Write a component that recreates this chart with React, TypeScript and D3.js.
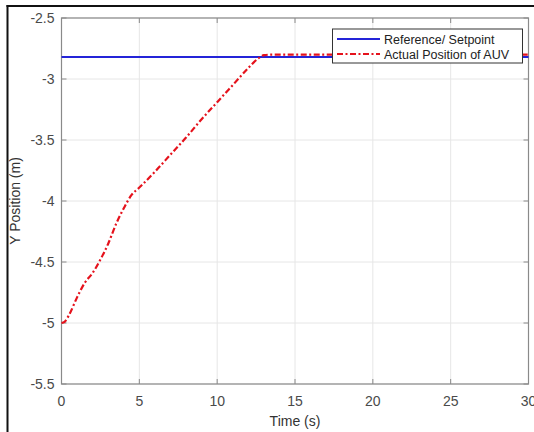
import React from "react";
import * as d3 from "d3";

const timeValues = [0, 0.2, 0.5, 1.0, 1.5, 2.0, 2.5, 3.0, 3.5, 4.0, 4.5, 5.0, 6.0, 7.0, 8.0, 9.0, 10.0, 11.0, 12.0, 12.6, 13.0, 13.5, 15, 20, 25, 30];
const actualValues = [-5.0, -4.99, -4.93, -4.79, -4.67, -4.59, -4.48, -4.35, -4.19, -4.06, -3.95, -3.89, -3.76, -3.62, -3.48, -3.33, -3.19, -3.05, -2.91, -2.835, -2.805, -2.8, -2.8, -2.8, -2.8, -2.8];
const referenceTimes = [0, 30];
const referenceValues = [-2.82, -2.82];
const xTicks = [0, 5, 10, 15, 20, 25, 30];
const yTicks = [-2.5, -3, -3.5, -4, -4.5, -5, -5.5];
const seriesNames = ["Reference/ Setpoint", "Actual Position of AUV"];

const W = 534;
const H = 432;
const left = 61.5;
const right = 528.5;
const top = 18;
const bottom = 384;
const FONT = "'Liberation Sans', Arial, sans-serif";
const BLUE = "#2424d8";
const RED = "#e5121c";
const AXIS = "#8a8a8a";
const GRID = "#e6e6e6";
const TXT = "#4a4a4a";

export default function App() {
  const x = d3.scaleLinear().domain([0, 30]).range([left, right]);
  const y = d3.scaleLinear().domain([-5.5, -2.5]).range([bottom, top]);
  const line = d3
    .line<[number, number]>()
    .x((d) => x(d[0]))
    .y((d) => y(d[1]))
    .curve(d3.curveMonotoneX);
  const actual: [number, number][] = timeValues.map((t, i) => [t, actualValues[i]]);
  const ref: [number, number][] = referenceTimes.map((t, i) => [t, referenceValues[i]]);
  const fmt = (v: number) => String(v);

  return (
    <svg width={W} height={H} style={{ position: "absolute", left: 0, top: 0, background: "#fff" }}>
      <rect x={0} y={0} width={W} height={H} fill="#fff" />
      {/* outer frame */}
      <line x1={7.5} x2={7.5} y1={5} y2={H} stroke="#111" strokeWidth={2} />
      <line x1={6.5} x2={W} y1={6} y2={6} stroke="#111" strokeWidth={2} />
      {/* grid */}
      {xTicks.map((t) => (
        <line key={"gx" + t} x1={x(t)} x2={x(t)} y1={top} y2={bottom} stroke={GRID} strokeWidth={1} />
      ))}
      {yTicks.map((t) => (
        <line key={"gy" + t} x1={left} x2={right} y1={y(t)} y2={y(t)} stroke={GRID} strokeWidth={1} />
      ))}
      {/* axes box */}
      <rect x={left} y={top} width={right - left} height={bottom - top} fill="none" stroke={AXIS} strokeWidth={1.2} />
      {/* ticks */}
      {xTicks.map((t) => (
        <g key={"tx" + t}>
          <line x1={x(t)} x2={x(t)} y1={bottom} y2={bottom - 5} stroke={AXIS} />
          <line x1={x(t)} x2={x(t)} y1={top} y2={top + 5} stroke={AXIS} />
          <text x={x(t)} y={405.5} textAnchor="middle" fontFamily={FONT} fontSize={14} fill={TXT}>
            {fmt(t)}
          </text>
        </g>
      ))}
      {yTicks.map((t) => (
        <g key={"ty" + t}>
          <line x1={left} x2={left + 5} y1={y(t)} y2={y(t)} stroke={AXIS} />
          <line x1={right} x2={right - 5} y1={y(t)} y2={y(t)} stroke={AXIS} />
          <text x={54.5} y={y(t) + 5} textAnchor="end" fontFamily={FONT} fontSize={14} fill={TXT}>
            {fmt(t)}
          </text>
        </g>
      ))}
      {/* labels */}
      <text x={(left + right) / 2} y={426} textAnchor="middle" fontFamily={FONT} fontSize={14} fill="#333">
        Time (s)
      </text>
      <text
        transform={`translate(20, ${(top + bottom) / 2}) rotate(-90)`}
        textAnchor="middle"
        fontFamily={FONT}
        fontSize={14}
        fill="#333"
      >
        Y Position (m)
      </text>
      {/* series */}
      <path d={line(ref) || ""} fill="none" stroke={BLUE} strokeWidth={2} />
      <path d={line(actual) || ""} fill="none" stroke={RED} strokeWidth={2.2} strokeDasharray="6,2.5,2,2.5" />
      {/* legend */}
      <rect x={332.5} y={29} width={190} height={34} fill="#fff" stroke="#333" strokeWidth={1} />
      <line x1={337} x2={380} y1={39} y2={39} stroke={BLUE} strokeWidth={2} />
      <line x1={337} x2={380} y1={54} y2={54} stroke={RED} strokeWidth={2.2} strokeDasharray="6,2.5,2,2.5" />
      <text x={384} y={43.5} fontFamily={FONT} fontSize={12.5} fill="#222">
        {seriesNames[0]}
      </text>
      <text x={384} y={58.5} fontFamily={FONT} fontSize={12.5} fill="#222">
        {seriesNames[1]}
      </text>
    </svg>
  );
}
